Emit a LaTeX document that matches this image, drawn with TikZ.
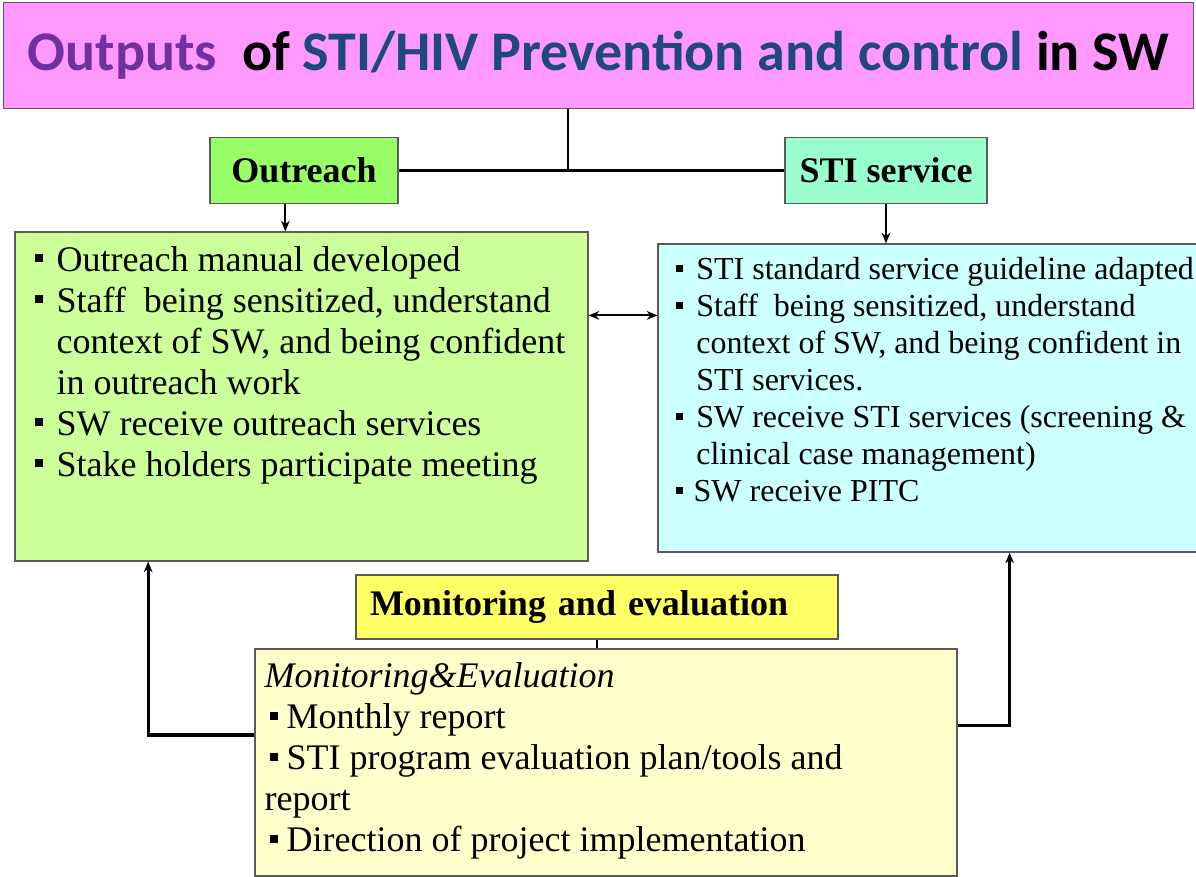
\documentclass[tikz,border=0pt]{standalone}
\usepackage{fontspec}
\setmainfont{Liberation Serif}
\newfontfamily\titlefont{Carlito}
\usetikzlibrary{arrows.meta}
\definecolor{TitlePink}{RGB}{255,153,255}
\definecolor{OutPurple}{RGB}{112,48,160}
\definecolor{OutBlue}{RGB}{31,73,125}
\definecolor{OutreachGreen}{RGB}{153,255,102}
\definecolor{ServiceMint}{RGB}{153,255,204}
\definecolor{BoxGreen}{RGB}{204,255,153}
\definecolor{BoxCyan}{RGB}{204,255,255}
\definecolor{MEYellow}{RGB}{255,255,102}
\definecolor{BoxYellow}{RGB}{255,255,204}
\definecolor{EdgeGray}{RGB}{90,90,90}
\newcommand{\sqb}{\rule[0.25em]{0.22em}{0.22em}}
\newcommand{\itm}[1][16.5pt]{\makebox[#1][l]{\sqb}}

\begin{document}
\begin{tikzpicture}[x=0.75pt, y=-0.75pt, >={Stealth[length=8pt, width=6.5pt]},
    box/.style={draw=EdgeGray, line width=0.9pt, inner sep=0pt},
    headbox/.style={box, font=\fontsize{27}{32}\selectfont\bfseries},
    linkline/.style={line width=2.8pt},
    feedarrow/.style={->, line width=1.6pt}]
  \useasboundingbox (0,0) rectangle (1196,877);
  \clip (0,0) rectangle (1196,877);

  % title and headings
  \node[box, fill=TitlePink, minimum width=893pt, minimum height=79pt] (title) at (598.5,55.5)
    {\titlefont\bfseries\fontsize{42}{48}\selectfont\textcolor{OutPurple}{Outputs}~ of \textcolor{OutBlue}{STI/HIV Prevention and control} in SW};
  \node[headbox, fill=OutreachGreen, minimum width=141pt, minimum height=50pt] (outreach) at (304,170.5) {Outreach};
  \node[headbox, fill=ServiceMint, minimum width=151.5pt, minimum height=50pt] (sti) at (886,170.5) {STI service};
  \node[headbox, fill=MEYellow, text width=340.5pt, inner xsep=10.5pt, align=left, minimum height=48pt] (me) at (597,607) {Monitoring and evaluation};

  % content boxes
  \node[box, fill=BoxGreen, minimum width=429.75pt, minimum height=246.75pt] (gbox) at (301.5,396.5) {};
  \node[box, fill=BoxCyan, minimum width=421.5pt, minimum height=231pt] (cbox) at (939,398) {};
  \node[box, fill=BoxYellow, minimum width=526.5pt, minimum height=170.25pt] (lbox) at (606,762.5) {};

  \node[anchor=north west, inner sep=0pt, align=left, font=\fontsize{27}{30.75}\selectfont] (gtext)
    at ([xshift=15pt, yshift=-11pt]gbox.north west)
    {\itm Outreach manual developed\\
     \itm Staff~ being sensitized, understand\\
     \hspace*{16.5pt}context of SW, and being confident\\
     \hspace*{16.5pt}in outreach work\\
     \itm SW receive outreach services\\
     \itm Stake holders participate meeting};
  \node[anchor=north west, inner sep=0pt, align=left, font=\fontsize{24}{27.75}\selectfont] (ctext)
    at ([xshift=14pt, yshift=-10.5pt]cbox.north west)
    {\itm[15pt]STI standard service guideline adapted\\
     \itm[15pt]Staff~ being sensitized, understand\\
     \hspace*{15pt}context of SW, and being confident in\\
     \hspace*{15pt}STI services.\\
     \itm[15pt]SW receive STI services (screening \&\\
     \hspace*{15pt}clinical case management)\\
     \itm[13pt]SW receive PITC};
  \node[anchor=north west, inner sep=0pt, align=left, font=\fontsize{27}{30.75}\selectfont] (ltext)
    at ([xshift=7.5pt, yshift=-10.5pt]lbox.north west)
    {\textit{Monitoring\&Evaluation}\\
     \hspace*{4pt}\itm[12.5pt]Monthly report\\
     \hspace*{4pt}\itm[12.5pt]STI program evaluation plan/tools and\\
     report\\
     \hspace*{4pt}\itm[12.5pt]Direction of project implementation};

  % connectors
  \coordinate (join) at (568,170.5);
  \draw[linkline] (outreach.east) -- (sti.west);
  \draw[line width=2.2pt] (title.south -| join) -- (join);
  \draw[feedarrow] ([xshift=-14pt]outreach.south) -- ([xshift=-14pt]outreach.south |- gbox.north);
  \draw[feedarrow] (sti.south) -- (sti.south |- cbox.north);
  \draw[<->, line width=1.6pt] ([yshift=-63pt]gbox.north east) -- ([yshift=-63pt]gbox.north east -| cbox.west);
  \draw[line width=1.6pt] (me.south) -- (me.south |- lbox.north);
  \draw[feedarrow, line width=2.4pt] ([yshift=20.6pt]lbox.west) -| ([xshift=-115pt]gbox.south);
  \draw[feedarrow, line width=2.4pt] ([yshift=28pt]lbox.east) -| ([xshift=53pt]cbox.south);
\end{tikzpicture}
\end{document}
